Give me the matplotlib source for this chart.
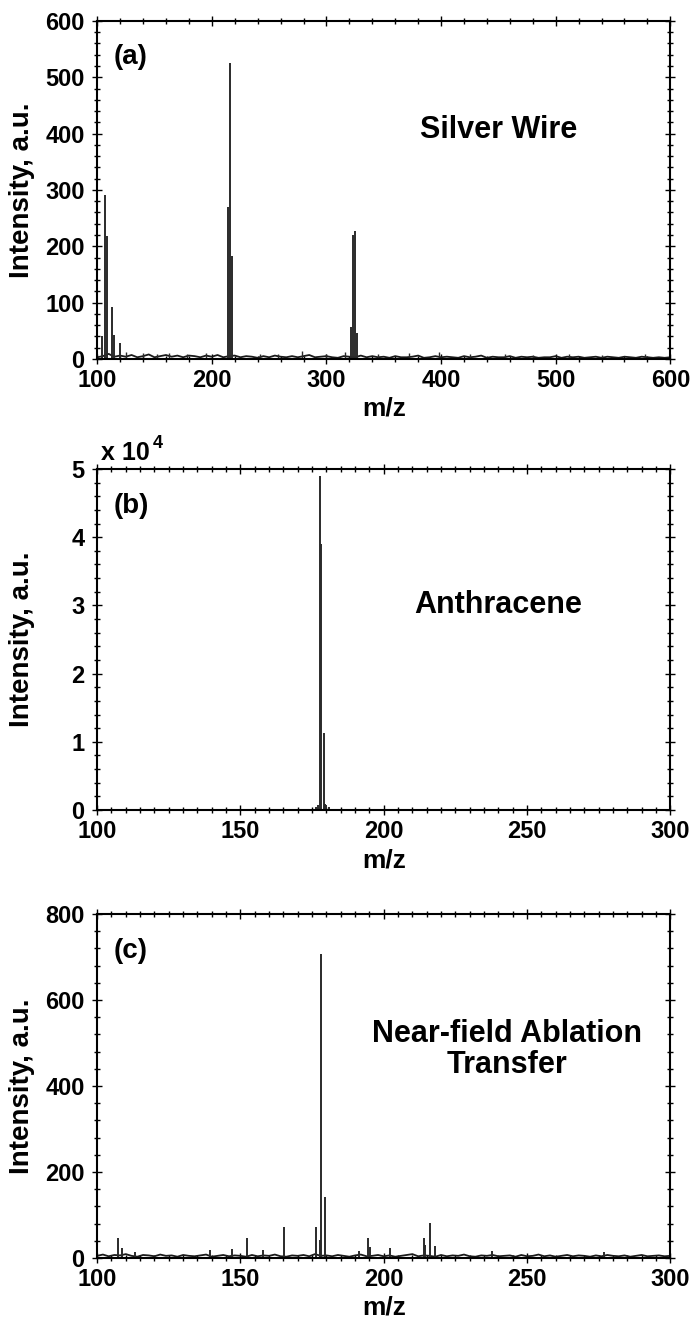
import numpy as np
import matplotlib
matplotlib.use("Agg")
import matplotlib.pyplot as plt
from matplotlib.ticker import MultipleLocator, FuncFormatter

plt.rcParams["font.family"] = ["Liberation Sans", "DejaVu Sans"]
plt.rcParams["font.weight"] = "bold"

# ---- (a) silver wire: Ag, Ag2, Ag3 clusters + small spikes + baseline ----
mz_a = [104, 107, 109, 113, 115, 120, 214, 216, 218, 321, 323, 325, 327]
int_a = [41, 291, 218, 92, 43, 28, 270, 525, 182, 57, 220, 227, 46]

spike_mz_a = [125, 140, 152, 163, 178, 195, 242, 258, 279, 300,
              316, 345, 372, 398, 425, 456, 480, 512, 540, 578]
spike_a = [12, 10, 9, 11, 8, 10, 9, 8, 15, 9,
           12, 8, 10, 13, 8, 9, 7, 8, 7, 8]

noise_mz_a = np.arange(100, 601, 5)
noise_a = [3, 5, 9, 4, 6, 4, 7, 3, 5, 8, 3, 5, 7, 4, 6, 3, 6, 5, 3, 6,
           4, 7, 3, 5, 6, 3, 5, 4, 2, 5, 3, 6, 4, 3, 5, 3, 5, 7, 3, 4,
           5, 3, 2, 5, 4, 3, 6, 3, 5, 3, 4, 2, 5, 3, 3, 4, 6, 2, 3, 5,
           3, 4, 3, 2, 5, 3, 4, 6, 2, 4, 3, 3, 5, 2, 4, 3, 4, 2, 3, 3,
           5, 2, 4, 3, 4, 2, 3, 4, 2, 4, 3, 2, 4, 3, 2, 4, 3, 2, 3, 2, 3]

# ---- (b) anthracene ----
mz_b = [176.5, 177.0, 177.9, 178.1, 179.0, 179.5, 180.0, 181.0]
int_b = [500, 800, 49000, 39000, 11300, 900, 700, 400]

# ---- (c) near-field ablation transfer ----
mz_c = [107.1, 108.8, 113.3, 139.2, 147.0, 152.2, 157.7, 165.1, 176.3, 177.7,
        178.2, 179.6, 191.5, 194.4, 195.2, 202.3, 213.9, 214.5, 216.3, 217.8,
        237.8, 276.7]
int_c = [46, 24, 15, 19, 20, 46, 18, 72, 72, 42,
         706, 141, 17, 47, 25, 23, 47, 30, 81, 28,
         17, 15]

noise_mz_c = np.arange(100, 301, 2)
noise_c = [5, 8, 4, 7, 6, 9, 5, 3, 7, 6, 4, 8, 5, 6, 3, 7, 5, 4, 6, 8,
           3, 5, 7, 4, 6, 5, 3, 7, 4, 6, 5, 8, 4, 3, 6, 5, 7, 4, 9, 5,
           6, 4, 7, 5, 3, 6, 8, 4, 5, 7, 4, 6, 3, 5, 7, 9, 4, 6, 5, 3,
           7, 4, 6, 5, 8, 4, 3, 6, 5, 7, 4, 5, 6, 3, 7, 4, 5, 8, 4, 6,
           3, 5, 7, 4, 6, 5, 3, 6, 4, 7, 5, 4, 6, 3, 5, 7, 4, 5, 6, 4, 5]

fig = plt.figure(figsize=(6.99, 13.27), dpi=100)
ax_a = fig.add_axes([0.139, 0.7295, 0.820, 0.2547])
ax_b = fig.add_axes([0.139, 0.3896, 0.820, 0.2570])
ax_c = fig.add_axes([0.139, 0.0520, 0.820, 0.2592])

line_kw = dict(color="#2a2a2a", linewidth=1.4)
noise_kw = dict(color="#1a1a1a", linewidth=1.3)


def style(ax, xmaj, xmin, ymaj, ymin, height_px):
    ax.xaxis.set_major_locator(MultipleLocator(xmaj))
    ax.xaxis.set_minor_locator(MultipleLocator(xmin))
    ax.yaxis.set_major_locator(MultipleLocator(ymaj))
    ax.yaxis.set_minor_locator(MultipleLocator(ymin))
    ax.tick_params(which="both", direction="inout", top=True, right=True,
                   labelsize=17, width=1.0)
    ax.tick_params(axis="x", pad=3.5)
    ax.tick_params(axis="y", pad=5.5)
    ax.tick_params(which="major", length=7)
    ax.tick_params(which="minor", length=4)
    for sp in ax.spines.values():
        sp.set_linewidth(1.5)
    for lab in ax.get_xticklabels() + ax.get_yticklabels():
        lab.set_fontweight("bold")
    ax.set_xlabel("m/z", fontsize=19, fontweight="bold", va="top")
    ax.xaxis.set_label_coords(0.5, -38 / height_px)
    ax.set_ylabel("Intensity, a.u.", fontsize=20, fontweight="bold")
    ax.yaxis.set_label_coords(-0.108, 0.5)


# (a)
ax_a.plot(noise_mz_a, noise_a, **noise_kw)
ax_a.vlines(spike_mz_a, 0, spike_a, color="#2a2a2a", linewidth=1.0)
ax_a.vlines(mz_a, 0, int_a, **line_kw)
ax_a.set_xlim(100, 600)
ax_a.set_ylim(0, 600)
style(ax_a, 100, 20, 100, 20, 338)
ax_a.text(0.028, 0.893, "(a)", transform=ax_a.transAxes, fontsize=20,
          fontweight="bold", va="center", ha="left")
ax_a.text(0.70, 0.678, "Silver Wire", transform=ax_a.transAxes, fontsize=22,
          fontweight="bold", va="center", ha="center")

# (b)
ax_b.vlines(mz_b, 0, int_b, **line_kw)
ax_b.set_xlim(100, 300)
ax_b.set_ylim(0, 50000)
style(ax_b, 50, 5, 10000, 2000, 341)
ax_b.yaxis.set_major_formatter(FuncFormatter(lambda v, p: f"{v / 1e4:.0f}"))
ax_b.text(0.028, 0.892, "(b)", transform=ax_b.transAxes, fontsize=20,
          fontweight="bold", va="center", ha="left")
ax_b.text(0.70, 0.60, "Anthracene", transform=ax_b.transAxes, fontsize=22,
          fontweight="bold", va="center", ha="center")
fig.text(101 / 699, 1 - 460 / 1327, "x 10", fontsize=18, fontweight="bold",
         va="baseline", ha="left")
fig.text(153 / 699, 1 - 448 / 1327, "4", fontsize=13, fontweight="bold",
         va="baseline", ha="left")

# (c)
ax_c.plot(noise_mz_c, noise_c, **noise_kw)
ax_c.vlines(mz_c, 0, int_c, **line_kw)
ax_c.set_xlim(100, 300)
ax_c.set_ylim(0, 800)
style(ax_c, 50, 5, 200, 40, 344)
ax_c.text(0.028, 0.892, "(c)", transform=ax_c.transAxes, fontsize=20,
          fontweight="bold", va="center", ha="left")
ax_c.text(0.7155, 0.628, "Near-field Ablation", transform=ax_c.transAxes,
          fontsize=22, fontweight="bold", va="baseline", ha="center")
ax_c.text(0.7155, 0.538, "Transfer", transform=ax_c.transAxes,
          fontsize=22, fontweight="bold", va="baseline", ha="center")

fig.savefig("out.png", dpi=100)
